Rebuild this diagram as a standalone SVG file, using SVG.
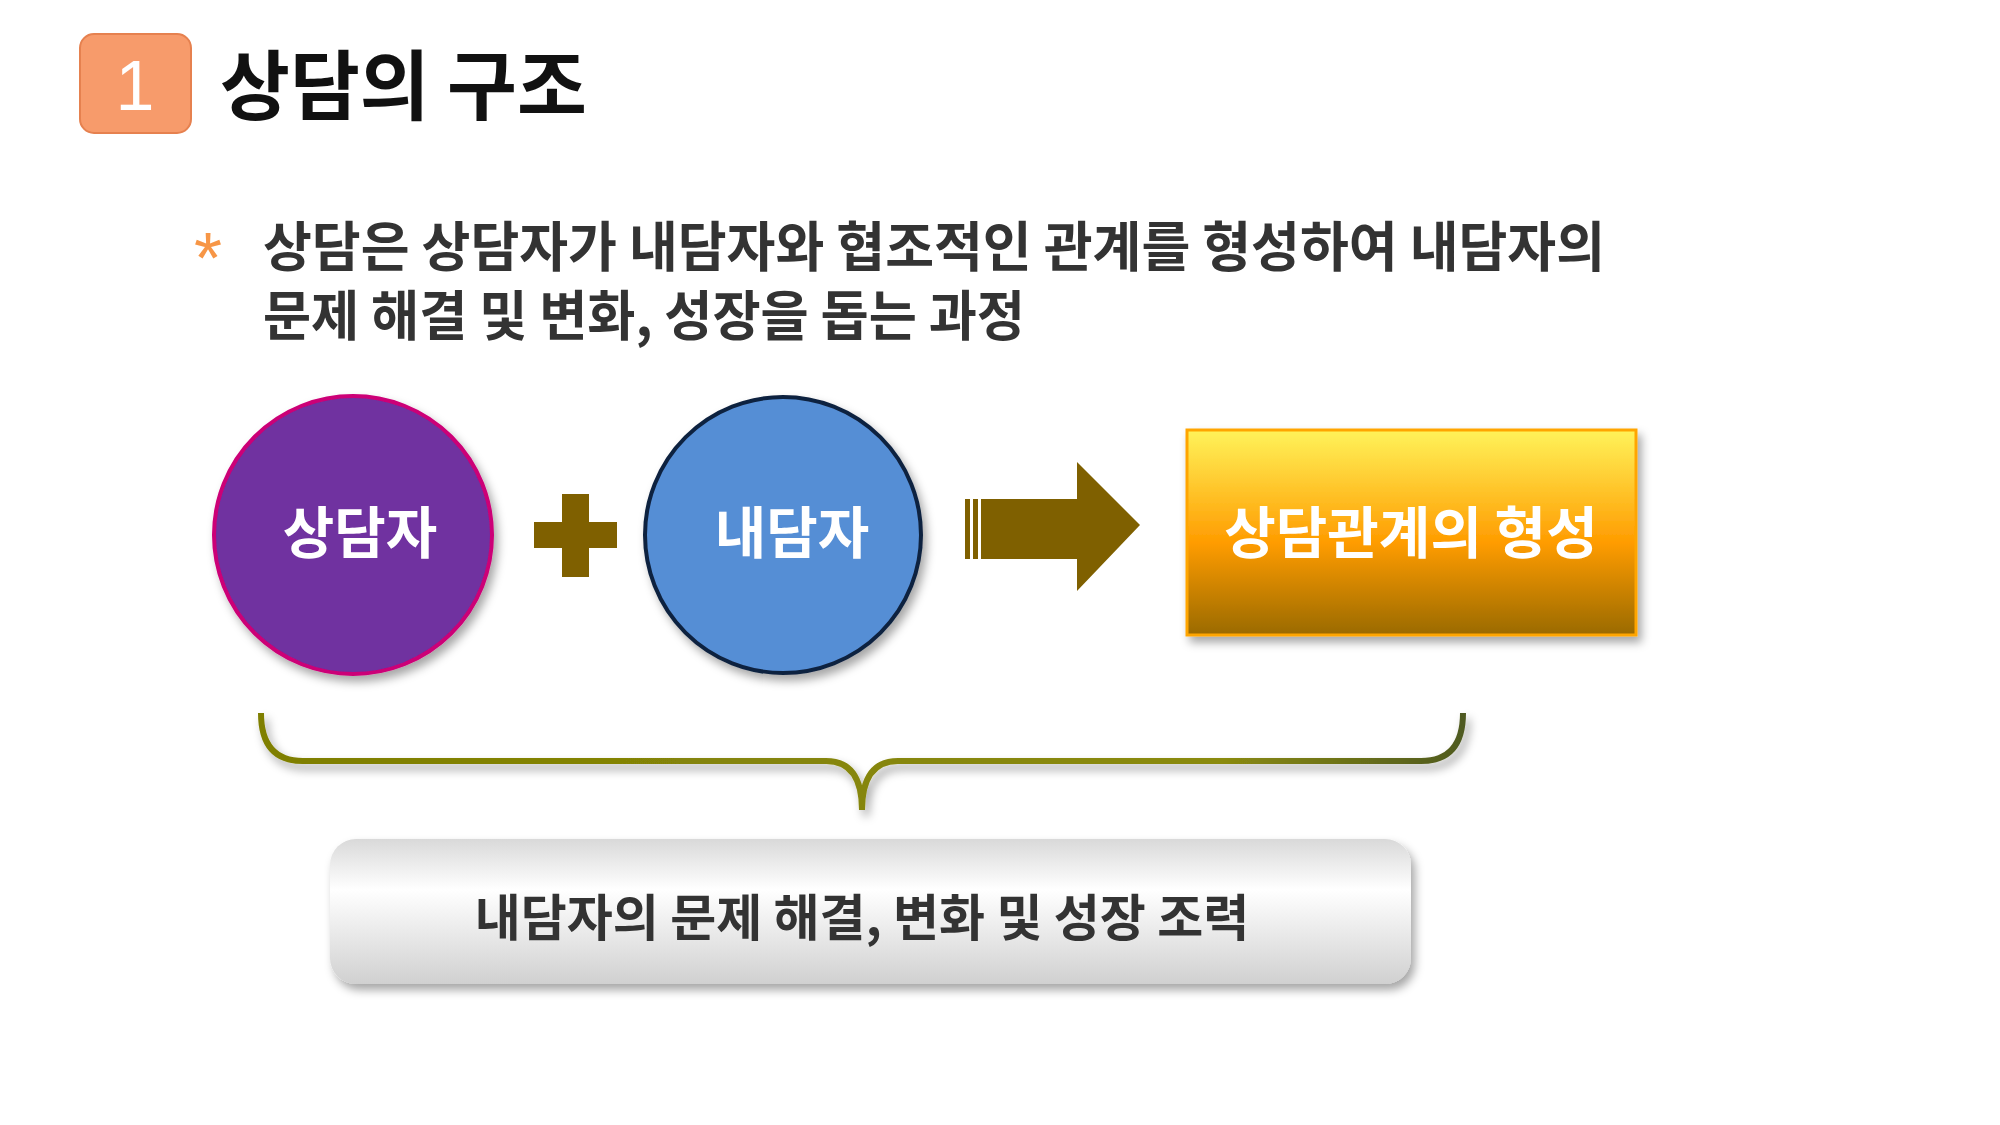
<svg xmlns="http://www.w3.org/2000/svg" width="2000" height="1125" viewBox="0 0 2000 1125">
<style>
.k{font-family:"Noto Sans CJK KR","Noto Sans",sans-serif;font-weight:bold}
</style>
<defs>
<linearGradient id="gy" x1="0" y1="0" x2="0" y2="1">
<stop offset="0" stop-color="#fff35a"/><stop offset="0.55" stop-color="#ff9c00"/><stop offset="1" stop-color="#9a6a06"/>
</linearGradient>
<linearGradient id="gg" x1="0" y1="0" x2="0" y2="1">
<stop offset="0" stop-color="#d9d9d9"/><stop offset="0.35" stop-color="#ffffff"/><stop offset="1" stop-color="#d0d0d0"/>
</linearGradient>
<linearGradient id="gb" x1="0" y1="0" x2="1" y2="0">
<stop offset="0" stop-color="#7f7f00"/><stop offset="0.8" stop-color="#8a8a10"/><stop offset="1" stop-color="#4f5a20"/>
</linearGradient>
<filter id="sh" x="-20%" y="-20%" width="140%" height="150%"><feDropShadow dx="4" dy="6" stdDeviation="5" flood-color="#000" flood-opacity="0.35"/></filter>
</defs>
<rect width="2000" height="1125" fill="#fff"/>
<g id="title">
<rect x="80" y="34" width="111" height="99" rx="14" fill="#f79b6b" stroke="#e6814f" stroke-width="2"/>
<text x="135" y="110" font-family="Liberation Sans,sans-serif" font-size="70" fill="#fff" text-anchor="middle">1</text>
<text x="220" y="114" class="k" font-size="76" fill="#111" font-weight="normal">상담의 구조</text>
</g>
<g id="desc">
<text x="194" y="283" font-family="Liberation Sans,sans-serif" font-size="72" fill="#f79646">*</text>
<text x="263" y="267" class="k" font-size="54" fill="#333" textLength="1342" lengthAdjust="spacingAndGlyphs">상담은 상담자가 내담자와  협조적인 관계를 형성하여 내담자의</text>
<text x="263" y="336" class="k" font-size="54" fill="#333" textLength="762" lengthAdjust="spacingAndGlyphs">문제 해결 및 변화, 성장을 돕는 과정</text>
</g>
<g id="counselor" filter="url(#sh)">
<circle cx="353" cy="535" r="139" fill="#7030a0" stroke="#cc0077" stroke-width="4"/>
<text x="360" y="553" class="k" font-size="56" fill="#fff" text-anchor="middle">상담자</text>
</g>
<g id="plus" fill="#7f6000">
<rect x="534" y="522" width="83" height="26"/><rect x="562" y="494" width="27" height="83"/>
</g>
<g id="client" filter="url(#sh)">
<circle cx="783" cy="535" r="138" fill="#558ed5" stroke="#10223f" stroke-width="4"/>
<text x="792" y="553" class="k" font-size="56" fill="#fff" text-anchor="middle">내담자</text>
</g>
<g id="connectors">
<g fill="#7f6000">
<rect x="965" y="499" width="5" height="60"/><rect x="973" y="499" width="5" height="60"/>
<path d="M981 499H1077V462L1140 525L1077 591V559H981Z"/>
</g>
<path d="M261 713Q261 761 303 761H826Q862 761 862 810Q862 761 898 761H1421Q1463 761 1463 713" fill="none" stroke="url(#gb)" stroke-width="6" filter="url(#sh)"/>
</g>
<g id="relation" filter="url(#sh)">
<rect x="1187" y="430" width="449" height="205" fill="url(#gy)" stroke="#ffa500" stroke-width="3"/>
<text x="1411" y="553" class="k" font-size="56" fill="#fff" text-anchor="middle">상담관계의 형성</text>
</g>
<g id="result">
<rect x="330" y="839" width="1081" height="145" rx="26" fill="url(#gg)" filter="url(#sh)"/>
<text x="862" y="936" class="k" font-size="50" fill="#333" text-anchor="middle">내담자의 문제 해결, 변화 및 성장 조력</text>
</g>
</svg>
